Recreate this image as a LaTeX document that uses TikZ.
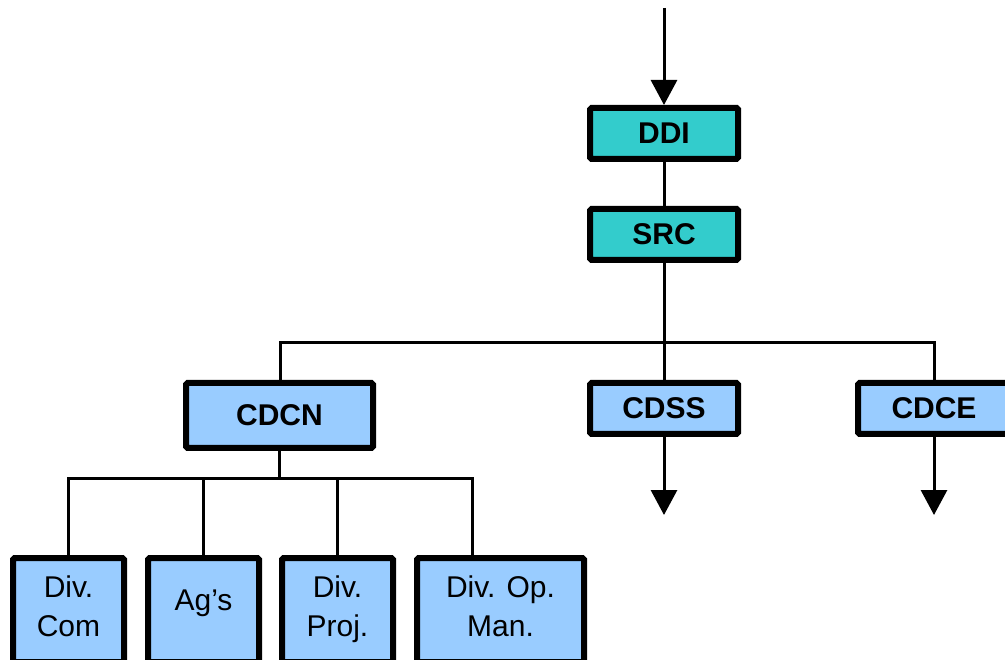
\documentclass[tikz,border=0pt]{standalone}
\usepackage{fontspec}
\setmainfont{Liberation Sans}
\usetikzlibrary{arrows.meta}
\definecolor{tealfill}{HTML}{33CCCC}
\definecolor{bluefill}{HTML}{99CCFF}
% label lifted by #1 inside its box, dimensions kept
\newcommand{\lifted}[2]{\raisebox{#1}[\height][\depth]{\begin{tabular}{@{}c@{}}#2\end{tabular}}}
\tikzset{
  unit/.style={draw=black, line width=6pt, rounded corners=1.5pt, inner sep=0pt,
    font=\fontsize{30}{34}\selectfont\bfseries, align=center},
  topunit/.style={unit, fill=tealfill, minimum width=148pt, minimum height=51pt},
  midunit/.style={unit, fill=bluefill, minimum height=51pt},
  lowunit/.style={unit, fill=bluefill, font=\fontsize{30}{39}\selectfont,
    minimum height=104pt, anchor=north},
  link/.style={line width=3pt},
  flow/.style={line width=3pt, -{Triangle[width=26pt,length=25pt]}}
}
\begin{document}
\begin{tikzpicture}[x=1pt,y=-1pt]
\useasboundingbox (0,0) rectangle (1005,660);
\clip (0,0) rectangle (1005,660);

% directorate and its secretariat
\node[topunit] (ddi) at (664,133.5) {DDI};
\node[topunit] (src) at (664,234.5) {SRC};

% the three coordinations
\node[midunit, minimum width=187pt, minimum height=65pt] (cdcn) at (279.5,415.5) {CDCN};
\node[midunit, minimum width=148pt] (cdss) at (664,408.5) {CDSS};
\node[midunit, minimum width=152pt] (cdce) at (934,408.5) {CDCE};

% divisions under CDCN
\node[lowunit, minimum width=111pt] (com)  at (68.5,555)  {\lifted{1pt}{Div.\\Com}};
\node[lowunit, minimum width=111pt] (ags)  at (203.5,555) {\lifted{7pt}{Ag’s}};
\node[lowunit, minimum width=111pt] (proj) at (337.5,555) {\lifted{1pt}{Div.\\Proj.}};
\node[lowunit, minimum width=167pt] (man)  at (500.5,555) {\lifted{1pt}{Div. Op.\\Man.}};

% incoming flow from above
\coordinate (in) at (664,8);
\draw[flow] (in) -- (ddi.north);
\draw[link] (ddi.south) -- (src.north);

% upper bus
\coordinate (busL) at (280,343);
\coordinate (busR) at (934,343);
\draw[link] (src.south) -- (src.south |- busL);
\draw[link] (cdcn.north -| busL) -- (busL) -- (busR) -- (cdce.north -| busR);
\draw[link] (cdss.north) -- (cdss.north |- busL);

% outgoing flows
\coordinate (outS) at (664,515);
\coordinate (outE) at (934,515);
\draw[flow] (cdss.south) -- (outS);
\draw[flow] (cdce.south) -- (outE);

% lower bus
\coordinate (b1) at (68,479);
\coordinate (b2) at (203,479);
\coordinate (b3) at (337,479);
\coordinate (b4) at (472,479);
\draw[link] (cdcn.south) -- (cdcn.south |- b1);
\draw[link] (com.north -| b1) -- (b1) -- (b4) -- (man.north -| b4);
\draw[link] (b2) -- (ags.north -| b2);
\draw[link] (b3) -- (proj.north -| b3);
\end{tikzpicture}
\end{document}
